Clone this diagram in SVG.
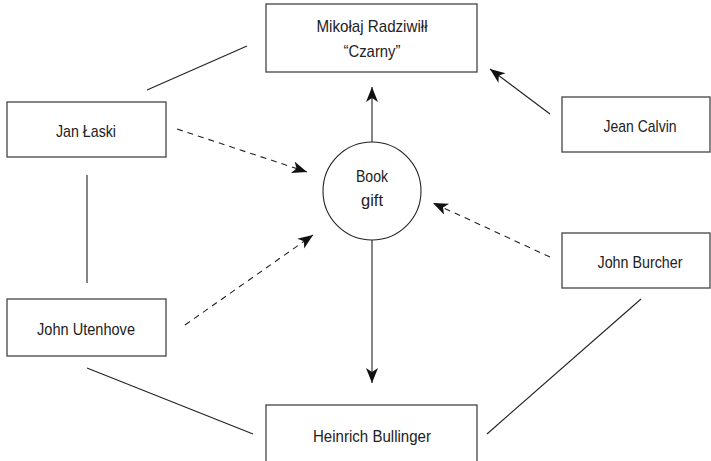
<svg xmlns="http://www.w3.org/2000/svg" width="711" height="461" viewBox="0 0 711 461">
  <style>
    .box { fill: #fff; stroke: #444; stroke-width: 1.3; }
    .lbl { font-family: "Liberation Sans", Arial, sans-serif; font-size: 17px; fill: #222; text-anchor: middle; }
    .ln { stroke: #222; stroke-width: 1.1; fill: none; }
    .dash { stroke-dasharray: 6 5; }
  </style>
  <defs>
    <marker id="ah" markerUnits="userSpaceOnUse" markerWidth="16" markerHeight="14" refX="15" refY="6" orient="auto">
      <path d="M0,0 L15,6 L0,12 L4,6 Z" fill="#111"/>
    </marker>
  </defs>
  <rect width="711" height="461" fill="#fff"/>
  <g id="connectors">
    <line class="ln" x1="147" y1="90" x2="247" y2="46"/>
    <line class="ln" x1="87" y1="175" x2="87" y2="283"/>
    <line class="ln" x1="87" y1="368" x2="253" y2="434"/>
    <line class="ln" x1="487" y1="434" x2="641" y2="299"/>
    <line class="ln" x1="550" y1="114" x2="490" y2="69" marker-end="url(#ah)"/>
    <line class="ln" x1="372" y1="142" x2="372" y2="87" marker-end="url(#ah)"/>
    <line class="ln" x1="372" y1="240" x2="372" y2="383" marker-end="url(#ah)"/>
    <line class="ln dash" x1="177" y1="129" x2="307" y2="172" marker-end="url(#ah)"/>
    <line class="ln dash" x1="185" y1="325" x2="313" y2="235" marker-end="url(#ah)"/>
    <line class="ln dash" x1="550" y1="257" x2="433" y2="203" marker-end="url(#ah)"/>
  </g>
  <g id="radziwill">
    <rect class="box" x="266" y="4" width="211" height="68"/>
    <text class="lbl" x="372" y="32" textLength="111" lengthAdjust="spacingAndGlyphs">Mikołaj Radziwiłł</text>
    <text class="lbl" x="372" y="57" textLength="57" lengthAdjust="spacingAndGlyphs">“Czarny”</text>
  </g>
  <g id="laski">
    <rect class="box" x="7" y="102" width="159" height="55"/>
    <text class="lbl" x="86" y="137" textLength="60" lengthAdjust="spacingAndGlyphs">Jan Łaski</text>
  </g>
  <g id="calvin">
    <rect class="box" x="562" y="97" width="148" height="55"/>
    <text class="lbl" x="640" y="132" textLength="73" lengthAdjust="spacingAndGlyphs">Jean Calvin</text>
  </g>
  <g id="bookgift">
    <circle cx="372" cy="191" r="49" fill="#fff" stroke="#222" stroke-width="1.1"/>
    <text class="lbl" x="372" y="182" textLength="32" lengthAdjust="spacingAndGlyphs">Book</text>
    <text class="lbl" x="372" y="206" textLength="22" lengthAdjust="spacingAndGlyphs">gift</text>
  </g>
  <g id="burcher">
    <rect class="box" x="562" y="233" width="148" height="55"/>
    <text class="lbl" x="640" y="268" textLength="85" lengthAdjust="spacingAndGlyphs">John Burcher</text>
  </g>
  <g id="utenhove">
    <rect class="box" x="7" y="299" width="159" height="57"/>
    <text class="lbl" x="86" y="335" textLength="98" lengthAdjust="spacingAndGlyphs">John Utenhove</text>
  </g>
  <g id="bullinger">
    <rect class="box" x="266" y="405" width="211" height="70"/>
    <text class="lbl" x="372" y="442" textLength="118" lengthAdjust="spacingAndGlyphs">Heinrich Bullinger</text>
  </g>
</svg>
